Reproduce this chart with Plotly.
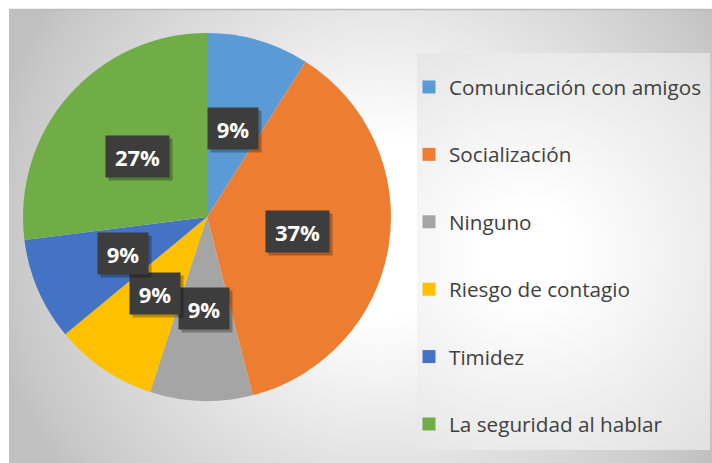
import base64
import math
import plotly.graph_objects as go

# ---- data ----
categories = ["Comunicación con amigos", "Socialización", "Ninguno",
              "Riesgo de contagio", "Timidez", "La seguridad al hablar"]
values = [9, 37, 9, 9, 9, 27]
colors = ["#5B9BD5", "#ED7D31", "#A5A5A5", "#FFC000", "#4472C4", "#70AD47"]

# ---- layout constants (pixels) ----
W, H = 712, 463
CX, CY, R = 207, 217, 184          # pie centre and radius
PANEL = (9, 9, 712, 463)           # chart area
LEG_BOX = (417, 53, 710, 450)      # legend box


def px(x):
    return x / W


def py(y):
    return 1 - y / H


def svg_uri(w, h, cx, cy, r, stops):
    st = "".join(f'<stop offset="{o}" stop-color="{c}"/>' for o, c in stops)
    svg = (f'<svg xmlns="http://www.w3.org/2000/svg" width="{w}" height="{h}" '
           f'viewBox="0 0 {w} {h}" preserveAspectRatio="none"><defs>'
           f'<radialGradient id="g" gradientUnits="userSpaceOnUse" cx="{cx}" cy="{cy}" r="{r}">'
           f'{st}</radialGradient></defs><rect width="{w}" height="{h}" fill="url(#g)"/></svg>')
    return "data:image/svg+xml;base64," + base64.b64encode(svg.encode()).decode()


fig = go.Figure()

fig.add_trace(go.Pie(
    labels=categories, values=values, sort=False, direction="clockwise", rotation=0,
    marker=dict(colors=colors, line=dict(width=0)),
    textinfo="none", showlegend=False,
    domain=dict(x=[px(CX - R), px(CX + R)], y=[py(CY + R), py(CY - R)]),
))

# legend entries
for cat, col in zip(categories, colors):
    fig.add_trace(go.Scatter(
        x=[None], y=[None], mode="markers", name=cat, legendgroup=cat,
        marker=dict(symbol="square", size=13, color=col), showlegend=True,
    ))

# data labels placed at half radius along each slice's mid angle
total = sum(values)
annotations = []
cum = 0
for v in values:
    mid = (cum + v / 2) / total * 2 * math.pi
    cum += v
    lx = CX + 0.5 * R * math.sin(mid)
    ly = CY - 0.5 * R * math.cos(mid)
    txt = f"{round(v / total * 100)}%"
    bw = 50 if len(txt) == 2 else 63
    common = dict(x=px(lx), y=py(ly), xref="paper", yref="paper", showarrow=False,
                  xanchor="center", yanchor="middle", width=bw, height=41, borderpad=0)
    # shadow
    annotations.append(dict(
        **common, text=" ", bgcolor="rgba(0,0,0,0.28)",
        xshift=3, yshift=-3, font=dict(size=22, color="rgba(0,0,0,0)"),
    ))
    annotations.append(dict(
        **common, text=f"<b>{txt}</b>", bgcolor="#3d3d3d",
        font=dict(family="Open Sans", size=22, color="#ffffff"),
    ))

images = [
    dict(source=svg_uri(PANEL[2] - PANEL[0], PANEL[3] - PANEL[1], 371, 220, 400,
                        [(0.22, "#ffffff"), (0.93, "#c8c8c8"), (1, "#c0c0c0")]),
         xref="paper", yref="paper", x=px(PANEL[0]), y=py(PANEL[1]),
         sizex=px(PANEL[2] - PANEL[0]), sizey=(PANEL[3] - PANEL[1]) / H,
         xanchor="left", yanchor="top", sizing="stretch", layer="below"),
    dict(source=svg_uri(LEG_BOX[2] - LEG_BOX[0], LEG_BOX[3] - LEG_BOX[1], 110, 200, 300,
                        [(0.15, "#ffffff"), (1, "#dcdcdc")]),
         xref="paper", yref="paper", x=px(LEG_BOX[0]), y=py(LEG_BOX[1]),
         sizex=px(LEG_BOX[2] - LEG_BOX[0]), sizey=(LEG_BOX[3] - LEG_BOX[1]) / H,
         xanchor="left", yanchor="top", sizing="stretch", layer="below"),
]

shapes = [
    dict(type="line", xref="paper", yref="paper", x0=px(PANEL[0]), x1=1,
         y0=py(PANEL[1] + 0.5), y1=py(PANEL[1] + 0.5), line=dict(color="#bdbdbd", width=1.5),
         layer="below"),
]

fig.update_layout(
    width=W, height=H, autosize=False,
    margin=dict(l=0, r=0, t=0, b=0),
    paper_bgcolor="#ffffff", plot_bgcolor="rgba(0,0,0,0)",
    xaxis=dict(visible=False), yaxis=dict(visible=False),
    images=images, shapes=shapes, annotations=annotations,
    showlegend=True,
    legend=dict(x=px(409), y=py(67), xanchor="left", yanchor="top",
                bgcolor="rgba(0,0,0,0)", tracegroupgap=37.5,
                font=dict(family="Open Sans", size=20.7, color="#404040")),
)

fig.write_html("out.html", config={"displayModeBar": False},
               post_script="document.body.style.margin='0';document.body.style.overflow='hidden';")
